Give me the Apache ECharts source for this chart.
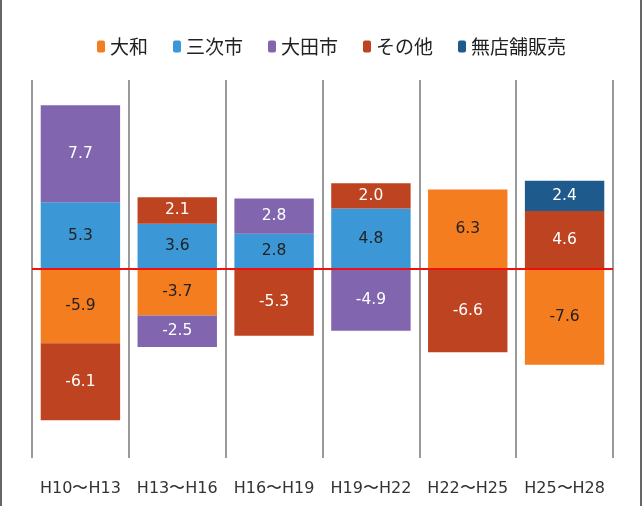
<!DOCTYPE html>
<html>
<head>
<meta charset="utf-8">
<script src="https://cdn.jsdelivr.net/npm/echarts@6/dist/echarts.min.js"></script>
<style>
  html, body { margin: 0; padding: 0; background: #fff; }
  #chart { width: 643px; height: 506px; }
</style>
</head>
<body>
<div id="chart"></div>
<script>
// 期間
const periods = ['H10〜H13', 'H13〜H16', 'H16〜H19', 'H19〜H22', 'H22〜H25', 'H25〜H28']
// 系列ごとの増減
const yamato = [-5.9, -3.7, null, null, 6.3, -7.6]
const miyoshi = [5.3, 3.6, 2.8, 4.8, null, null]
const oda = [7.7, -2.5, 2.8, -4.9, null, null]
const others = [-6.1, 2.1, -5.3, 2.0, -6.6, 4.6]
const mail = [null, null, null, null, null, 2.4]

const chart = echarts.init(document.getElementById('chart'))

function makeSeries(name, data, color, textColor) {
    return {
        name: name,
        type: 'bar',
        stack: 'all',
        data: data,
        barCategoryGap: '18%',
        itemStyle: { color: color },
        label: {
            show: true,
            position: 'inside',
            color: textColor,
            fontFamily: 'DejaVu Sans',
            fontSize: 15.5,
            formatter: (p) => (p.value == null ? '' : p.value.toFixed(1)),
        },
    }
}

const series = [
    makeSeries('大和', yamato, '#F47D20', '#222'),
    makeSeries('三次市', miyoshi, '#3B97D6', '#222'),
    makeSeries('大田市', oda, '#8165AE', '#fff'),
    makeSeries('その他', others, '#BE4320', '#fff'),
    makeSeries('無店舗販売', mail, '#1E5B8C', '#fff'),
]
// ゼロの赤線
series[0].markLine = {
    silent: true,
    symbol: 'none',
    label: { show: false },
    lineStyle: { color: '#F01010', width: 2, type: 'solid' },
    data: [{ yAxis: 0 }],
}

chart.setOption({
    animation: false,
    legend: {
        top: 32,
        left: 92,
        itemWidth: 8,
        itemHeight: 12,
        itemGap: 25,
        textStyle: { fontSize: 19, color: '#222', fontFamily: 'Noto Sans CJK JP' },
    },
    grid: { left: 32, right: 30, top: 80, bottom: 48 },
    xAxis: {
        type: 'category',
        data: periods,
        axisLine: { show: false },
        axisTick: { show: false },
        splitLine: { show: true, interval: 0, lineStyle: { color: '#999', width: 2 } },
        axisLabel: {
            interval: 0,
            margin: 23,
            fontSize: 16,
            color: '#333',
            fontFamily: 'DejaVu Sans',
        },
    },
    yAxis: {
        type: 'value',
        min: -15,
        max: 15,
        show: false,
        splitLine: { show: false },
    },
    graphic: [
        { type: 'line', shape: { x1: 1, y1: 0, x2: 1, y2: 506 }, style: { stroke: '#666', lineWidth: 2 } },
        { type: 'line', shape: { x1: 641, y1: 0, x2: 641, y2: 506 }, style: { stroke: '#666', lineWidth: 2 } },
    ],
    series: series,
})
</script>
</body>
</html>
